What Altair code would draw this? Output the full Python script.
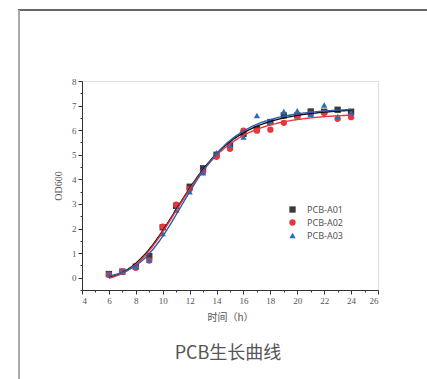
import altair as alt
import numpy as np
import pandas as pd

hours = list(range(6, 25))
series_names = ["PCB-A01", "PCB-A02", "PCB-A03"]
od_a01 = [0.15, 0.25, 0.45, 0.88, 2.05, 2.92, 3.70, 4.45, 5.00, 5.40, 5.85, 6.05, 6.33, 6.60, 6.60, 6.76, 6.75, 6.83, 6.75]
od_a02 = [0.12, 0.25, 0.40, 0.70, 2.08, 2.97, 3.60, 4.30, 4.92, 5.24, 5.98, 5.98, 6.02, 6.30, 6.60, 6.65, 6.70, 6.46, 6.53]
od_a03 = [0.15, 0.25, 0.45, 0.72, 1.80, 2.75, 3.50, 4.27, 5.08, 5.40, 5.72, 6.60, 6.33, 6.76, 6.79, 6.65, 7.02, 6.56, 6.70]
colors = ["#3a3a3a", "#e8363c", "#2e6cb8"]
line_colors = ["#111111", "#e8363c", "#2a5fae"]
shapes = ["square", "circle", "triangle-up"]
chart_title = "PCB生长曲线"


def logistic_fit(xs, ys):
    # Origin-style Logistic: y = A2 + (A1 - A2) / (1 + (x/x0)^p), least squares on a grid
    x = np.asarray(xs, float)
    y = np.asarray(ys, float)
    x0s = np.arange(8, 18, 0.02)
    ps = np.arange(2, 12, 0.02)
    X0, P = np.meshgrid(x0s, ps, indexing="ij")
    f = 1.0 / (1.0 + (x[None, None, :] / X0[..., None]) ** P[..., None])
    fm = f.mean(-1)
    ym = y.mean()
    cov = ((f - fm[..., None]) * (y - ym)).sum(-1)
    var = ((f - fm[..., None]) ** 2).sum(-1)
    a = cov / var
    b = ym - a * fm
    res = ((b[..., None] + a[..., None] * f - y) ** 2).sum(-1)
    i = np.unravel_index(res.argmin(), res.shape)
    return x0s[i[0]], ps[i[1]], a[i], b[i]


pts = []
fits = []
xg = np.linspace(hours[0], hours[-1], 181)
for name, vals in zip(series_names, [od_a01, od_a02, od_a03]):
    for h, v in zip(hours, vals):
        pts.append({"t": h, "od": v, "s": name})
    x0, p, a, b = logistic_fit(hours, vals)
    yg = b + a / (1.0 + (xg / x0) ** p)
    for xx, yy in zip(xg, yg):
        fits.append({"t": float(xx), "od": float(yy), "s": name})
pts = pd.DataFrame(pts)
fits = pd.DataFrame(fits)

xscale = alt.Scale(domain=[4, 26], nice=False, zero=False)
yscale = alt.Scale(domain=[-0.5, 8], nice=False, zero=False)
axis_common = dict(domainColor="#333333", tickColor="#333333", labelColor="#555555",
                   labelFont="Liberation Serif", labelFontSize=9, titleColor="#555555",
                   grid=False, tickSize=4, labelPadding=2)

xaxis = alt.Axis(values=list(range(4, 27, 2)), title="时间（h）", titleFont="Noto Sans CJK SC",
                 titleFontSize=10, titleFontWeight="normal", titlePadding=7, orient="bottom", **axis_common)
yaxis = alt.Axis(values=list(range(0, 9)), title="OD600", titleFont="Liberation Serif",
                 titleFontSize=10, titleFontWeight="normal", titlePadding=8, orient="left", **axis_common)

points = alt.Chart(pts).mark_point(filled=True, opacity=1, size=40).encode(
    x=alt.X("t:Q", scale=xscale, axis=xaxis),
    y=alt.Y("od:Q", scale=yscale, axis=yaxis),
    color=alt.Color("s:N", scale=alt.Scale(domain=series_names, range=colors),
                    legend=alt.Legend(title=None, orient="none", legendX=206, legendY=124,
                                      labelFont="Noto Sans", labelFontSize=9, labelColor="#555555",
                                      symbolSize=40, rowPadding=3, labelOffset=10)),
    shape=alt.Shape("s:N", scale=alt.Scale(domain=series_names, range=shapes)),
)

lines = alt.Chart(fits).mark_line(strokeWidth=1.4).encode(
    x=alt.X("t:Q", scale=xscale, axis=None),
    y=alt.Y("od:Q", scale=yscale, axis=None),
    detail="s:N",
    stroke=alt.Stroke("s:N", scale=alt.Scale(domain=series_names, range=line_colors), legend=None),
)

minor_x = alt.Chart(pd.DataFrame({"t": [4]})).mark_point(opacity=0).encode(
    x=alt.X("t:Q", scale=xscale, axis=alt.Axis(values=list(range(5, 26, 2)), labels=False, title=None,
                                              orient="bottom", domain=False, grid=False, tickSize=2,
                                              tickColor="#333333")),
)
minor_y = alt.Chart(pd.DataFrame({"od": [0]})).mark_point(opacity=0).encode(
    y=alt.Y("od:Q", scale=yscale, axis=alt.Axis(values=[v + 0.5 for v in range(-1, 8)], labels=False, title=None,
                                               orient="left", domain=False, grid=False, tickSize=2,
                                               tickColor="#333333")),
)

frame_top = alt.Chart(pd.DataFrame({"a": [0]})).mark_rule(color="#333333", strokeWidth=1.5).encode(
    x=alt.value(-64), x2=alt.value(345), y=alt.value(-71))
frame_left = alt.Chart(pd.DataFrame({"a": [0]})).mark_rule(color="#aaaaaa", strokeWidth=2).encode(
    x=alt.value(-63), y=alt.value(-71), y2=alt.value(300))

title_text = alt.Chart(pd.DataFrame({"label": [chart_title]})).mark_text(
    font="Noto Sans CJK SC", fontSize=18, color="#555555", baseline="middle", align="center"
).encode(text="label:N", x=alt.value(146), y=alt.value(273))

chart = alt.layer(points, lines, minor_x, minor_y, frame_top, frame_left, title_text).resolve_axis(
    x="independent", y="independent"
).resolve_scale(
    color="independent", shape="independent"
).properties(
    width=296, height=209,
    autosize=alt.AutoSizeParams(type="none"),
    padding={"left": 82, "top": 81, "right": 49, "bottom": 89},
).configure_view(stroke=None).configure(background="white")

chart.save("out.html", embed_options={"renderer": "svg", "actions": False})
